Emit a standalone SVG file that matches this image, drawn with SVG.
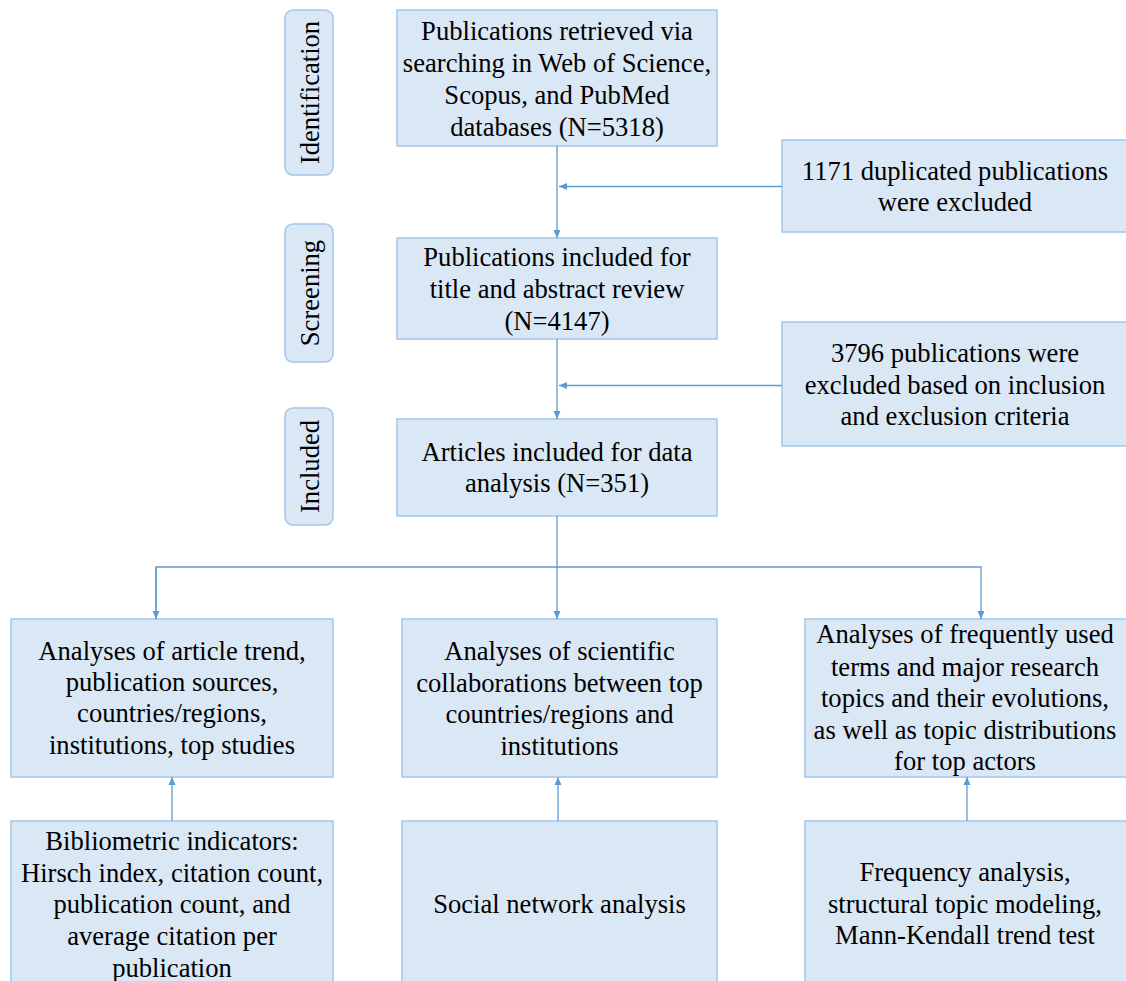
<svg xmlns="http://www.w3.org/2000/svg" width="1126" height="981" viewBox="0 0 1126 981">
  <style>
    .box { fill: #dae7f5; stroke: #a3c6ea; stroke-width: 1.5; }
    .stage { fill: #dae7f5; stroke: #a3c6ea; stroke-width: 1.5; }
    .lbl { font-family: "Liberation Serif", "Times New Roman", serif; font-size: 26.6px; fill: #000; text-anchor: middle; }
    .conn { fill: none; stroke: #5b9bd5; stroke-width: 1.3; }
  </style>
  <defs>
    <marker id="arrow" viewBox="0 0 8 8" refX="8" refY="4" markerWidth="8" markerHeight="8" markerUnits="userSpaceOnUse" orient="auto">
      <path d="M0,0.5 L8,4 L0,7.5 z" fill="#5b9bd5"/>
    </marker>
  </defs>
  <rect width="1126" height="981" fill="#ffffff"/>

  <!-- stage labels -->
  <g id="stage-identification">
    <rect class="stage" x="285" y="10" width="48" height="165" rx="8"/>
    <text class="lbl" transform="translate(309,92.5) rotate(-90)" y="9.5">Identification</text>
  </g>
  <g id="stage-screening">
    <rect class="stage" x="285" y="224" width="48" height="138" rx="8"/>
    <text class="lbl" transform="translate(309,293) rotate(-90)" y="9.5">Screening</text>
  </g>
  <g id="stage-included">
    <rect class="stage" x="285" y="408" width="48" height="117" rx="8"/>
    <text class="lbl" transform="translate(309,466.5) rotate(-90)" y="9.5">Included</text>
  </g>

  <!-- main flow -->
  <g id="retrieved">
    <rect class="box" x="397" y="10" width="320" height="136"/>
    <text class="lbl" x="557" y="39.5">Publications retrieved via</text>
    <text class="lbl" x="557" y="71.5">searching in Web of Science,</text>
    <text class="lbl" x="557" y="103.5">Scopus, and PubMed</text>
    <text class="lbl" x="557" y="135.5">databases (N=5318)</text>
  </g>
  <g id="duplicates">
    <rect class="box" x="782" y="140" width="350" height="92"/>
    <text class="lbl" x="955" y="179.5">1171 duplicated publications</text>
    <text class="lbl" x="955" y="211">were excluded</text>
  </g>
  <g id="screened">
    <rect class="box" x="397" y="238" width="320" height="101"/>
    <text class="lbl" x="557" y="266">Publications included for</text>
    <text class="lbl" x="557" y="298">title and abstract review</text>
    <text class="lbl" x="557" y="330">(N=4147)</text>
  </g>
  <g id="excluded">
    <rect class="box" x="782" y="322" width="350" height="124"/>
    <text class="lbl" x="955" y="362">3796 publications were</text>
    <text class="lbl" x="955" y="393.5">excluded based on inclusion</text>
    <text class="lbl" x="955" y="424.5">and exclusion criteria</text>
  </g>
  <g id="included">
    <rect class="box" x="397" y="419" width="320" height="97"/>
    <text class="lbl" x="557" y="461">Articles included for data</text>
    <text class="lbl" x="557" y="492">analysis (N=351)</text>
  </g>

  <!-- analyses -->
  <g id="analysis-trend">
    <rect class="box" x="11" y="619" width="322" height="158"/>
    <text class="lbl" x="172" y="660">Analyses of article trend,</text>
    <text class="lbl" x="172" y="691">publication sources,</text>
    <text class="lbl" x="172" y="722">countries/regions,</text>
    <text class="lbl" x="172" y="754">institutions, top studies</text>
  </g>
  <g id="analysis-collab">
    <rect class="box" x="402" y="619" width="315" height="158"/>
    <text class="lbl" x="559.5" y="660">Analyses of scientific</text>
    <text class="lbl" x="559.5" y="692">collaborations between top</text>
    <text class="lbl" x="559.5" y="723">countries/regions and</text>
    <text class="lbl" x="559.5" y="755">institutions</text>
  </g>
  <g id="analysis-topics">
    <rect class="box" x="805" y="619" width="330" height="158"/>
    <text class="lbl" x="965" y="643">Analyses of frequently used</text>
    <text class="lbl" x="965" y="676">terms and major research</text>
    <text class="lbl" x="965" y="707">topics and their evolutions,</text>
    <text class="lbl" x="965" y="738.5">as well as topic distributions</text>
    <text class="lbl" x="965" y="770">for top actors</text>
  </g>

  <!-- methods -->
  <g id="method-biblio">
    <rect class="box" x="11" y="821" width="322" height="180"/>
    <text class="lbl" x="172" y="850">Bibliometric indicators:</text>
    <text class="lbl" x="172" y="882">Hirsch index, citation count,</text>
    <text class="lbl" x="172" y="913">publication count, and</text>
    <text class="lbl" x="172" y="945">average citation per</text>
    <text class="lbl" x="172" y="977">publication</text>
  </g>
  <g id="method-sna">
    <rect class="box" x="402" y="821" width="315" height="180"/>
    <text class="lbl" x="559.5" y="913">Social network analysis</text>
  </g>
  <g id="method-topics">
    <rect class="box" x="805" y="821" width="330" height="180"/>
    <text class="lbl" x="965" y="881">Frequency analysis,</text>
    <text class="lbl" x="965" y="913">structural topic modeling,</text>
    <text class="lbl" x="965" y="944">Mann-Kendall trend test</text>
  </g>

  <!-- connectors -->
  <g id="connectors">
    <path class="conn" d="M557,146 V238" marker-end="url(#arrow)"/>
    <path class="conn" d="M782,186.5 H559" marker-end="url(#arrow)"/>
    <path class="conn" d="M557,339 V419" marker-end="url(#arrow)"/>
    <path class="conn" d="M782,385.5 H559" marker-end="url(#arrow)"/>
    <path class="conn" d="M557,516 V619" marker-end="url(#arrow)"/>
    <path class="conn" d="M156,619 V567 H981 V619" marker-end="url(#arrow)"/>
    <path class="conn" d="M156,567 V619" marker-end="url(#arrow)"/>
    <path class="conn" d="M172,821 V777" marker-end="url(#arrow)"/>
    <path class="conn" d="M558,821 V777" marker-end="url(#arrow)"/>
    <path class="conn" d="M967,821 V777" marker-end="url(#arrow)"/>
  </g>
</svg>
